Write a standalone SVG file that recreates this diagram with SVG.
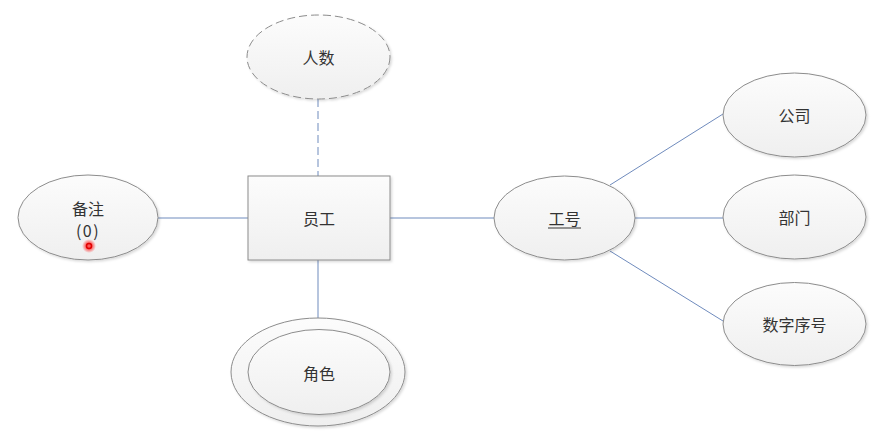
<svg xmlns="http://www.w3.org/2000/svg" width="885" height="435" viewBox="0 0 885 435">
  <defs>
    <linearGradient id="g" x1="0" y1="0" x2="0" y2="1">
      <stop offset="0" stop-color="#fcfcfc"/>
      <stop offset="1" stop-color="#efefef"/>
    </linearGradient>
    <radialGradient id="glow">
      <stop offset="0.4" stop-color="#ff3030" stop-opacity="0.8"/>
      <stop offset="1" stop-color="#ff3030" stop-opacity="0"/>
    </radialGradient>
    <filter id="sh" x="-10%" y="-10%" width="125%" height="125%">
      <feDropShadow dx="1.5" dy="1.5" stdDeviation="1" flood-color="#000" flood-opacity="0.15"/>
    </filter>
  </defs>
  <style>
    .shape { fill: url(#g); stroke: #8c8c8c; stroke-width: 1; filter: url(#sh); }
    .dash { stroke-dasharray: 8 4; }
    .conn { stroke: #6f8bbd; stroke-width: 1; fill: none; }
    text { font-family: "Noto Sans CJK SC", "Liberation Sans", sans-serif; font-size: 16px; fill: #333; text-anchor: middle; dominant-baseline: central; }
  </style>
  <rect width="885" height="435" fill="#fff"/>
  <g id="connectors">
    <line class="conn dash" x1="318" y1="99" x2="318" y2="176"/>
    <line class="conn" x1="158" y1="218" x2="248" y2="218"/>
    <line class="conn" x1="390" y1="218" x2="494" y2="218"/>
    <line class="conn" x1="318" y1="260" x2="318" y2="330"/>
    <line class="conn" x1="610" y1="185" x2="723" y2="114"/>
    <line class="conn" x1="635" y1="218" x2="723" y2="218"/>
    <line class="conn" x1="610" y1="251" x2="723" y2="321"/>
  </g>
  <g id="renshu">
    <ellipse class="shape dash" cx="318.5" cy="57" rx="71.5" ry="42"/>
    <text x="318.5" y="57">人数</text>
  </g>
  <g id="yuangong">
    <rect class="shape" x="248" y="176" width="142" height="84"/>
    <text x="319" y="218">员工</text>
  </g>
  <g id="beizhu">
    <ellipse class="shape" cx="88" cy="217.5" rx="70" ry="42.5"/>
    <text x="88" y="208">备注</text>
    <text x="88" y="230" letter-spacing="1.5">(0)</text>
    <circle cx="89" cy="246" r="7" fill="url(#glow)"/>
    <circle cx="89" cy="246" r="2.5" fill="none" stroke="#e00000" stroke-width="1.5"/>
  </g>
  <g id="gonghao">
    <ellipse class="shape" cx="564.5" cy="218" rx="70.5" ry="42"/>
    <text x="564.5" y="218">工号</text>
    <line x1="548" y1="228" x2="581" y2="228" stroke="#333" stroke-width="1"/>
  </g>
  <g id="juese">
    <ellipse class="shape" cx="318" cy="372" rx="87" ry="54"/>
    <ellipse class="shape" cx="319" cy="372" rx="71" ry="42.5"/>
    <text x="319" y="373">角色</text>
  </g>
  <g id="gongsi">
    <ellipse class="shape" cx="794.5" cy="115" rx="71.5" ry="42"/>
    <text x="794.5" y="115">公司</text>
  </g>
  <g id="bumen">
    <ellipse class="shape" cx="794.5" cy="217" rx="71.5" ry="42"/>
    <text x="794.5" y="217">部门</text>
  </g>
  <g id="shuzixuhao">
    <ellipse class="shape" cx="794.5" cy="324" rx="71.5" ry="41.5"/>
    <text x="794.5" y="324">数字序号</text>
  </g>
</svg>
